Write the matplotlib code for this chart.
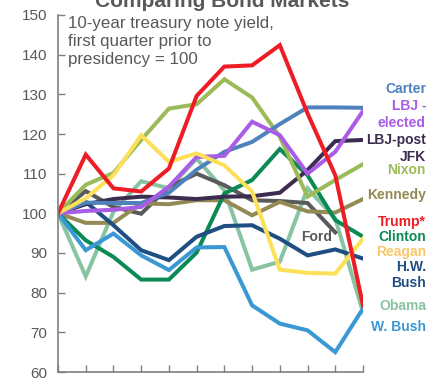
import matplotlib
matplotlib.use("Agg")
import matplotlib.pyplot as plt

plt.rcParams['font.family'] = ['Liberation Sans', 'DejaVu Sans']

quarters = list(range(12))
tick_labels = ['t', '1', '2', '3', '4', '5', '6', '7', '8', '9', '10', '11']

obama = [100, 84.1, 100.4, 108.1, 106.3, 113.8, 105.8, 85.8, 87.8, 106.3, 98.7, 75.1]
ford = [100, 105.6, 101.6, 99.9, 106.7, 110.0, 107.1, 103.3, 103.1, 102.6, 95.2]
kennedy = [100, 97.6, 97.6, 102.5, 102.3, 103.3, 103.3, 99.5, 102.9, 100.5, 100.2, 103.6]
clinton = [100, 93.2, 89.0, 83.3, 83.3, 90.1, 105.0, 108.4, 116.2, 109.6, 98.3, 94.1]
hw_bush = [100, 102.9, 97.0, 90.7, 88.2, 94.1, 96.8, 97.0, 93.6, 89.4, 90.9, 88.6]
w_bush = [100, 90.7, 94.9, 89.4, 85.7, 91.4, 91.5, 76.8, 72.2, 70.5, 65.0, 76.0]
lbj_post = [100, 102.3, 103.6, 104.2, 104.0, 103.6, 104.2, 104.3, 105.2, 110.9, 118.2, 118.5]
nixon = [100, 107.2, 110.2, 118.5, 126.4, 127.5, 133.8, 129.2, 119.3, 104.2, 108.4, 112.4]
carter = [100, 102.7, 102.6, 102.6, 105.2, 111.0, 115.5, 118.0, 122.5, 126.7, 126.7, 126.6]
lbj_elected = [100, 100.6, 100.9, 101.6, 106.7, 114.2, 114.5, 123.1, 119.7, 110.0, 115.5, 125.8]
reagan = [100, 103.8, 109.6, 119.7, 113.0, 115.1, 112.1, 105.5, 85.8, 85.0, 84.8, 93.6]
trump = [100, 114.8, 106.3, 105.5, 111.3, 129.6, 137.0, 137.3, 142.4, 125.2, 109.6, 76.8]

series = [
    (obama, '#88c4a2'),
    (ford, '#5a5a5a'),
    (kennedy, '#948a54'),
    (clinton, '#0b8a55'),
    (hw_bush, '#1f4e82'),
    (w_bush, '#3a98d4'),
    (lbj_post, '#3b2c50'),
    (nixon, '#9bbb59'),
    (carter, '#4f81bd'),
    (lbj_elected, '#a95ce6'),
    (reagan, '#fde05a'),
    (trump, '#ee1c25'),
]

# right-hand labels: text, colour, y pixel (from top)
labels = [
    ('Carter', '#4f81bd', 89),
    ('LBJ -', '#a95ce6', 106),
    ('elected', '#a95ce6', 123),
    ('LBJ-post', '#3b2c50', 140),
    ('JFK', '#3b2c50', 157),
    ('Nixon', '#9bbb59', 170),
    ('Kennedy', '#948a54', 195),
    ('Trump*', '#ee1c25', 222),
    ('Clinton', '#0b8a55', 237),
    ('Reagan', '#f9c86a', 252),
    ('H.W.', '#1f4e82', 267),
    ('Bush', '#1f4e82', 283),
    ('Obama', '#88c4a2', 306),
    ('W. Bush', '#3a98d4', 327),
]

W, H = 441, 386
fig = plt.figure(figsize=(W / 100, H / 100), dpi=100)
ax = fig.add_axes([58 / W, 1 - 372 / H, (363 - 58) / W, (372 - 15) / H])

for vals, color in series:
    ax.plot(quarters[:len(vals)], vals, color=color, lw=2.9, solid_joinstyle='miter')

ax.set_xlim(0, 11)
ax.set_ylim(60, 150)
ax.set_yticks(range(60, 151, 10))
ax.set_xticks(quarters)
ax.set_xticklabels(tick_labels, rotation=90)
grey = '#595959'
ax.tick_params(axis='y', direction='in', length=5, width=1, colors='#7f7f7f',
               labelcolor=grey, labelsize=11, pad=8)
ax.tick_params(axis='x', direction='in', length=5, width=1, colors='#7f7f7f',
               labelcolor=grey, labelsize=10.5, pad=9)
for s in ['top', 'right']:
    ax.spines[s].set_visible(False)
for s in ['left', 'bottom']:
    ax.spines[s].set_color('#7f7f7f')
    ax.spines[s].set_linewidth(1.2)

ax.text(10 / (363 - 58), 1 - 1 / (372 - 15),
        '10-year treasury note yield,\nfirst quarter prior to\npresidency = 100',
        transform=ax.transAxes, ha='left', va='top', fontsize=12.2, color=grey,
        linespacing=1.25)

ax.text(317 / W, 1 - 237 / H, 'Ford', transform=fig.transFigure, ha='center', va='center',
        fontsize=10, fontweight='bold', color=grey)

for txt, color, ypx in labels:
    fig.text(426 / W, 1 - ypx / H, txt, ha='right', va='center', fontsize=10,
             fontweight='bold', color=color)

fig.text(222 / W, 1 - 7 / H, 'Comparing Bond Markets', ha='center', va='baseline',
         fontsize=15, fontweight='bold', color=grey)

fig.savefig('out.png', dpi=100)
